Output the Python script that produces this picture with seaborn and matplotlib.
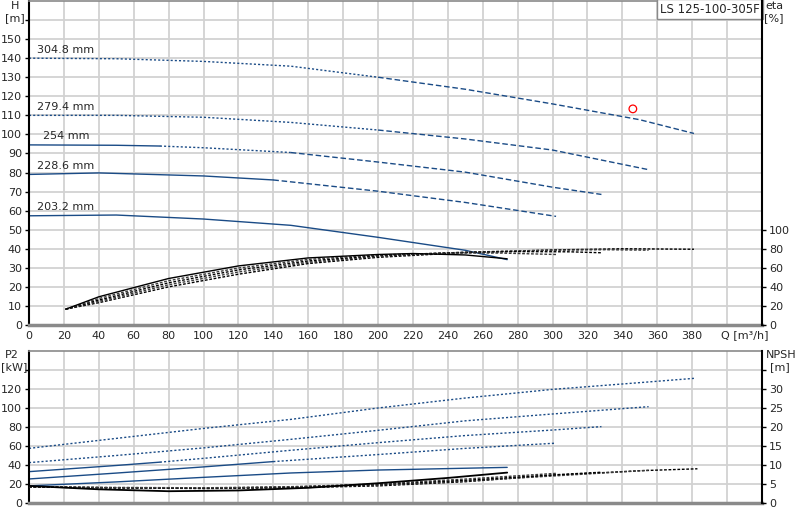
import numpy as np
import pandas as pd
import matplotlib
matplotlib.use("Agg")
import matplotlib.pyplot as plt
import seaborn as sns

# impeller diameters
diameters = ["304.8 mm", "279.4 mm", "254 mm", "228.6 mm", "203.2 mm"]

# head curves Q [m3/h] / H [m]
q_h_305 = [0, 50, 100, 150, 200, 250, 300, 350, 381]
h_305 = [140, 139.7, 138.3, 135.8, 130, 123.7, 116, 107.7, 100.5]
q_h_279 = [0, 50, 100, 150, 200, 250, 300, 355]
h_279 = [110, 110, 109, 106.3, 102.3, 97.6, 91.8, 81.5]
q_h_254 = [0, 50, 75, 100, 150, 200, 250, 300, 328]
h_254 = [94.5, 94.3, 93.9, 93, 90.5, 85.5, 80.2, 72.3, 68.5]
q_h_229 = [0, 40, 100, 140, 200, 250, 302]
h_229 = [79, 79.8, 78.2, 76.1, 70.2, 64.3, 57]
q_h_203 = [0, 50, 100, 150, 200, 250, 274]
h_203 = [57.3, 57.7, 55.6, 52.3, 46, 39.2, 34.3]

# efficiency curves eta [%]
q_e_305 = [21, 40, 80, 120, 160, 200, 250, 300, 340, 381]
eta_305 = [16.6, 23.4, 40, 53.3, 64.5, 71, 76, 78.8, 80, 79.5]
q_e_279 = [21, 40, 80, 120, 160, 200, 250, 300, 330, 355]
eta_279 = [16.6, 24.8, 42.2, 55.6, 65.8, 72, 76.5, 78.5, 79, 78.5]
q_e_254 = [21, 40, 80, 120, 160, 200, 240, 280, 310, 328]
eta_254 = [16.6, 26.2, 44.3, 57.8, 67.2, 72.8, 75.8, 77, 76.8, 75.8]
q_e_229 = [21, 40, 80, 120, 160, 200, 240, 270, 302]
eta_229 = [16.6, 27.8, 46.5, 59.8, 68.8, 73.5, 75.5, 75.5, 74]
q_e_203 = [21, 40, 80, 120, 160, 200, 220, 250, 274]
eta_203 = [16.6, 29.6, 48.8, 62, 70.4, 74, 75, 73.5, 69.5]

# shaft power P2 [kW]
q_p_305 = [0, 50, 100, 150, 200, 250, 300, 350, 381]
p2_305 = [57.5, 68, 78.5, 88, 100, 110.5, 119.6, 126.7, 131.2]
q_p_279 = [0, 50, 100, 150, 200, 250, 300, 355]
p2_279 = [42.5, 50, 58, 67, 76.5, 86.5, 93.7, 101.4]
q_p_254 = [0, 50, 75, 100, 150, 200, 250, 300, 328]
p2_254 = [33, 39.5, 43, 47, 55.5, 63.5, 71, 76.8, 80.4]
q_p_229 = [0, 50, 100, 140, 200, 250, 302]
p2_229 = [25.3, 31.5, 38, 43.6, 51, 57.5, 63]
q_p_203 = [0, 50, 100, 150, 200, 250, 274]
p2_203 = [18, 22.2, 27, 31.6, 34.7, 36.6, 37.5]

# NPSH [m]
q_n_305 = [0, 50, 100, 150, 200, 250, 300, 350, 383]
npsh_305 = [4.2, 4.0, 3.8, 4.0, 4.5, 5.6, 7.3, 8.5, 9.0]
q_n_279 = [0, 50, 100, 150, 200, 250, 300, 355]
npsh_279 = [4.2, 4.0, 3.9, 4.1, 4.7, 5.8, 7.1, 8.6]
q_n_254 = [0, 50, 100, 150, 200, 250, 300, 328]
npsh_254 = [4.2, 4.0, 3.9, 4.2, 4.9, 6.0, 7.4, 8.1]
q_n_229 = [0, 50, 100, 150, 200, 250, 302]
npsh_229 = [4.3, 4.1, 4.0, 4.3, 5.0, 6.3, 7.8]
q_n_203 = [0, 40, 80, 120, 160, 200, 240, 274]
npsh_203 = [4.5, 3.6, 3.1, 3.3, 4.0, 5.2, 6.6, 8.0]

# duty point
duty_q = [346]
duty_h = [113.4]

x_ticks = list(range(0, 400, 20))
pump_name = "LS 125-100-305F"

NAVY = "#1a4b86"
GRID = "#d2d2d2"
DOT = (0, (1.5, 1.5))
DASH = (0, (4, 2))
FINE = (0, (2, 1.2))

sns.set_theme(style="white")
plt.rcParams["font.family"] = ["DejaVu Sans"]
plt.rcParams["font.size"] = 8


def draw(ax, q, v, color, solid_to=None, dot_to=None, lw=1.0, dot=DOT, dash=DASH):
    df = pd.DataFrame({"q": q, "v": v})
    start = df["q"].min()
    if solid_to is not None:
        part = df[df["q"] <= solid_to]
        sns.lineplot(data=part, x="q", y="v", ax=ax, color=color, lw=lw)
        start = solid_to
    if dot_to is not None:
        part = df[(df["q"] >= start) & (df["q"] <= dot_to)]
        sns.lineplot(data=part, x="q", y="v", ax=ax, color=color, lw=lw, linestyle=dot)
        start = dot_to
    part = df[df["q"] >= start]
    if len(part) > 1:
        sns.lineplot(data=part, x="q", y="v", ax=ax, color=color, lw=lw, linestyle=dash)


fig = plt.figure(figsize=(8, 5.2), dpi=100)
ax1 = fig.add_axes([29 / 800, 1 - 325 / 520, 733 / 800, 324 / 520])
ax2 = fig.add_axes([29 / 800, 1 - 503 / 520, 733 / 800, 152 / 520])
ax1e = ax1.twinx()
ax2n = ax2.twinx()

for ax in (ax1, ax2):
    ax.set_xlim(0, 420)
    ax.set_xticks(x_ticks + [400])
    ax.grid(True, color=GRID, lw=1.3)
    ax.set_axisbelow(True)
    for s in ("top", "bottom"):
        ax.spines[s].set_color("#8a8a8a")
    ax.spines["bottom"].set_linewidth(2.5)
    ax.spines["top"].set_linewidth(1.2)
    ax.spines["left"].set_color("black")
    ax.spines["left"].set_linewidth(1.5)
    ax.spines["right"].set_visible(False)
    ax.tick_params(axis="y", length=3, width=1, color="black", pad=2, labelsize=8)
    ax.tick_params(axis="x", length=0, pad=4, labelsize=8)

for ax in (ax1e, ax2n):
    for s in ("top", "bottom", "left"):
        ax.spines[s].set_visible(False)
    ax.spines["right"].set_color("black")
    ax.spines["right"].set_linewidth(1.5)
    ax.tick_params(axis="y", length=3, width=1, color="black", pad=2, labelsize=8)
    ax.grid(False)

# top panel: head
ax1.set_ylim(0, 170)
ax1.set_yticks(range(0, 170, 10))
ax1.set_yticklabels([str(v) for v in range(0, 160, 10)] + [""])
ax1.set_xticklabels([str(v) for v in x_ticks] + [""])

draw(ax1, q_h_305, h_305, NAVY, dot_to=200)
draw(ax1, q_h_279, h_279, NAVY, dot_to=200)
draw(ax1, q_h_254, h_254, NAVY, solid_to=75, dot_to=150)
draw(ax1, q_h_229, h_229, NAVY, solid_to=140)
draw(ax1, q_h_203, h_203, NAVY, solid_to=274)

heads0 = [h_305[0], h_279[0], h_254[0], h_229[0], h_203[0]]
for name, h0 in zip(diameters, heads0):
    ax1.annotate(name, xy=(0, h0), xytext=(37, 8.5), textcoords="offset pixels",
                 ha="center", va="center", fontsize=8)

sns.scatterplot(x=duty_q, y=duty_h, ax=ax1, marker="o", s=30, facecolor="none",
                edgecolor="red", linewidth=0.9, zorder=5)

# efficiency on right axis
ax1e.set_ylim(0, 340)
ax1e.set_yticks(range(0, 101, 20))
draw(ax1e, q_e_305, eta_305, "black", dash=FINE)
draw(ax1e, q_e_279, eta_279, "#3a3a3a", dash=FINE)
draw(ax1e, q_e_254, eta_254, "black", dash=FINE)
draw(ax1e, q_e_229, eta_229, "#3a3a3a", dash=FINE)
draw(ax1e, q_e_203, eta_203, "black", solid_to=274)

# bottom panel: power
ax2.set_ylim(0, 160)
ax2.set_yticks(range(0, 160, 20))
ax2.set_yticklabels([str(v) for v in range(0, 140, 20)] + [""])
ax2.set_xticklabels([])

draw(ax2, q_p_305, p2_305, NAVY, dash=DOT)
draw(ax2, q_p_279, p2_279, NAVY, dash=DOT)
draw(ax2, q_p_254, p2_254, NAVY, solid_to=75, dash=DOT)
draw(ax2, q_p_229, p2_229, NAVY, solid_to=140, dash=DOT)
draw(ax2, q_p_203, p2_203, NAVY, solid_to=274)

ax2n.set_ylim(0, 40)
ax2n.set_yticks(range(0, 40, 5))
ax2n.set_yticklabels([str(v) for v in range(0, 35, 5)] + [""])
draw(ax2n, q_n_305, npsh_305, "black", dash=FINE)
draw(ax2n, q_n_279, npsh_279, "#3a3a3a", dash=FINE)
draw(ax2n, q_n_254, npsh_254, "black", dash=FINE)
draw(ax2n, q_n_229, npsh_229, "#3a3a3a", dash=FINE)
draw(ax2n, q_n_203, npsh_203, "black", solid_to=274, lw=1.3)

# seaborn puts column names on the axes, remove them
for ax in (ax1, ax1e, ax2, ax2n):
    ax.set_xlabel("")
    ax.set_ylabel("")

# axis captions
def ftext(px, py, s, ha="center"):
    fig.text(px / 800, 1 - py / 520, s, ha=ha, va="center", fontsize=8)

ftext(15, 6, "H")
ftext(15, 18, "[m]")
ftext(774, 6, "eta")
ftext(774, 18, "[%]")
ftext(12, 355, "P2")
ftext(14, 367, "[kW]")
ftext(781, 355, "NPSH")
ftext(780, 367, "[m]")
ftext(721, 335, "Q [m³/h]", ha="left")

ax1.text(0.997, 0.995, pump_name, transform=ax1.transAxes, ha="right", va="top",
         fontsize=8.5, zorder=6,
         bbox=dict(boxstyle="square,pad=0.3", facecolor="white", edgecolor="#8a8a8a", lw=1))

fig.savefig("out.png", dpi=100)
